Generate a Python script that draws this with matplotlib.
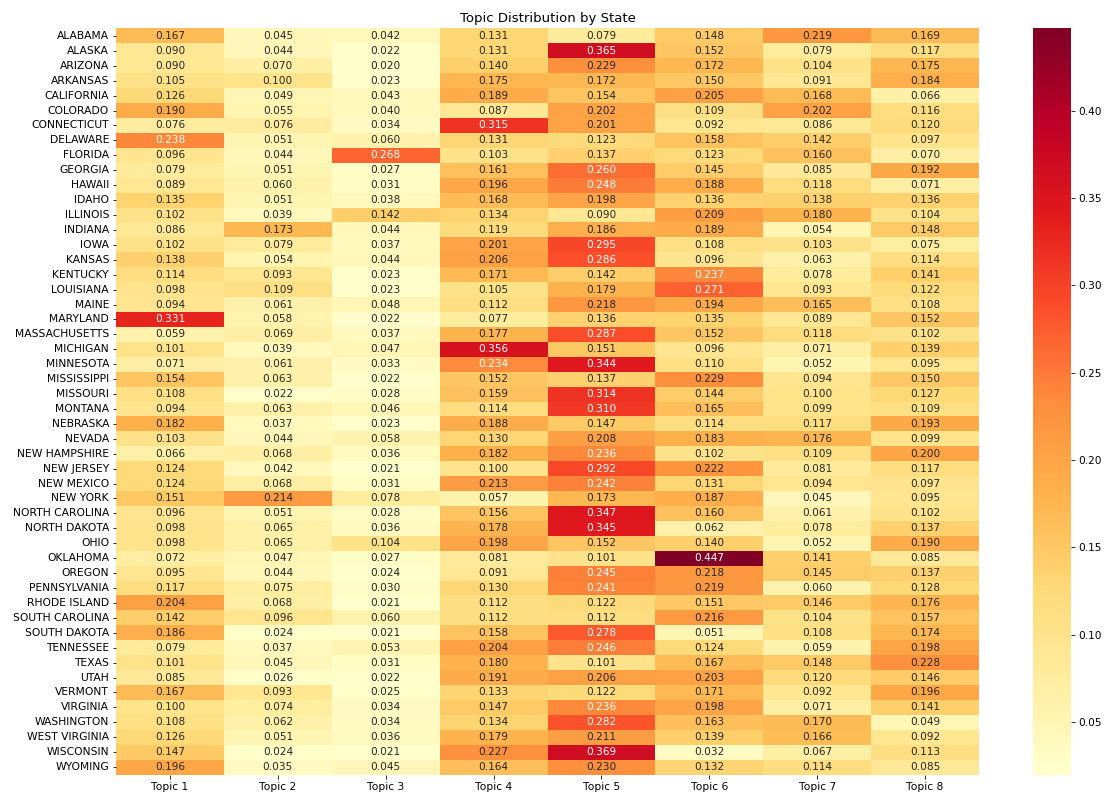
import matplotlib
matplotlib.use("Agg")
import matplotlib.pyplot as plt
import numpy as np
import pandas as pd
import seaborn as sns

states = ["ALABAMA", "ALASKA", "ARIZONA", "ARKANSAS", "CALIFORNIA", "COLORADO",
          "CONNECTICUT", "DELAWARE", "FLORIDA", "GEORGIA", "HAWAII", "IDAHO",
          "ILLINOIS", "INDIANA", "IOWA", "KANSAS", "KENTUCKY", "LOUISIANA",
          "MAINE", "MARYLAND", "MASSACHUSETTS", "MICHIGAN", "MINNESOTA",
          "MISSISSIPPI", "MISSOURI", "MONTANA", "NEBRASKA", "NEVADA",
          "NEW HAMPSHIRE", "NEW JERSEY", "NEW MEXICO", "NEW YORK",
          "NORTH CAROLINA", "NORTH DAKOTA", "OHIO", "OKLAHOMA", "OREGON",
          "PENNSYLVANIA", "RHODE ISLAND", "SOUTH CAROLINA", "SOUTH DAKOTA",
          "TENNESSEE", "TEXAS", "UTAH", "VERMONT", "VIRGINIA", "WASHINGTON",
          "WEST VIRGINIA", "WISCONSIN", "WYOMING"]

topic_labels = ["Topic 1", "Topic 2", "Topic 3", "Topic 4",
                "Topic 5", "Topic 6", "Topic 7", "Topic 8"]

topic1 = [0.167, 0.090, 0.090, 0.105, 0.126, 0.190, 0.076, 0.238, 0.096, 0.079,
          0.089, 0.135, 0.102, 0.086, 0.102, 0.138, 0.114, 0.098, 0.094, 0.331,
          0.059, 0.101, 0.071, 0.154, 0.108, 0.094, 0.182, 0.103, 0.066, 0.124,
          0.124, 0.151, 0.096, 0.098, 0.098, 0.072, 0.095, 0.117, 0.204, 0.142,
          0.186, 0.079, 0.101, 0.085, 0.167, 0.100, 0.108, 0.126, 0.147, 0.196]
topic2 = [0.045, 0.044, 0.070, 0.100, 0.049, 0.055, 0.076, 0.051, 0.044, 0.051,
          0.060, 0.051, 0.039, 0.173, 0.079, 0.054, 0.093, 0.109, 0.061, 0.058,
          0.069, 0.039, 0.061, 0.063, 0.022, 0.063, 0.037, 0.044, 0.068, 0.042,
          0.068, 0.214, 0.051, 0.065, 0.065, 0.047, 0.044, 0.075, 0.068, 0.096,
          0.024, 0.037, 0.045, 0.026, 0.093, 0.074, 0.062, 0.051, 0.024, 0.035]
topic3 = [0.042, 0.022, 0.020, 0.023, 0.043, 0.040, 0.034, 0.060, 0.268, 0.027,
          0.031, 0.038, 0.142, 0.044, 0.037, 0.044, 0.023, 0.023, 0.048, 0.022,
          0.037, 0.047, 0.033, 0.022, 0.028, 0.046, 0.023, 0.058, 0.036, 0.021,
          0.031, 0.078, 0.028, 0.036, 0.104, 0.027, 0.024, 0.030, 0.021, 0.060,
          0.021, 0.053, 0.031, 0.022, 0.025, 0.034, 0.034, 0.036, 0.021, 0.045]
topic4 = [0.131, 0.131, 0.140, 0.175, 0.189, 0.087, 0.315, 0.131, 0.103, 0.161,
          0.196, 0.168, 0.134, 0.119, 0.201, 0.206, 0.171, 0.105, 0.112, 0.077,
          0.177, 0.356, 0.234, 0.152, 0.159, 0.114, 0.188, 0.130, 0.182, 0.100,
          0.213, 0.057, 0.156, 0.178, 0.198, 0.081, 0.091, 0.130, 0.112, 0.112,
          0.158, 0.204, 0.180, 0.191, 0.133, 0.147, 0.134, 0.179, 0.227, 0.164]
topic5 = [0.079, 0.365, 0.229, 0.172, 0.154, 0.202, 0.201, 0.123, 0.137, 0.260,
          0.248, 0.198, 0.090, 0.186, 0.295, 0.286, 0.142, 0.179, 0.218, 0.136,
          0.287, 0.151, 0.344, 0.137, 0.314, 0.310, 0.147, 0.208, 0.236, 0.292,
          0.242, 0.173, 0.347, 0.345, 0.152, 0.101, 0.245, 0.241, 0.122, 0.112,
          0.278, 0.246, 0.101, 0.206, 0.122, 0.236, 0.282, 0.211, 0.369, 0.230]
topic6 = [0.148, 0.152, 0.172, 0.150, 0.205, 0.109, 0.092, 0.158, 0.123, 0.145,
          0.188, 0.136, 0.209, 0.189, 0.108, 0.096, 0.237, 0.271, 0.194, 0.135,
          0.152, 0.096, 0.110, 0.229, 0.144, 0.165, 0.114, 0.183, 0.102, 0.222,
          0.131, 0.187, 0.160, 0.062, 0.140, 0.447, 0.218, 0.219, 0.151, 0.216,
          0.051, 0.124, 0.167, 0.203, 0.171, 0.198, 0.163, 0.139, 0.032, 0.132]
topic7 = [0.219, 0.079, 0.104, 0.091, 0.168, 0.202, 0.086, 0.142, 0.160, 0.085,
          0.118, 0.138, 0.180, 0.054, 0.103, 0.063, 0.078, 0.093, 0.165, 0.089,
          0.118, 0.071, 0.052, 0.094, 0.100, 0.099, 0.117, 0.176, 0.109, 0.081,
          0.094, 0.045, 0.061, 0.078, 0.052, 0.141, 0.145, 0.060, 0.146, 0.104,
          0.108, 0.059, 0.148, 0.120, 0.092, 0.071, 0.170, 0.166, 0.067, 0.114]
topic8 = [0.169, 0.117, 0.175, 0.184, 0.066, 0.116, 0.120, 0.097, 0.070, 0.192,
          0.071, 0.136, 0.104, 0.148, 0.075, 0.114, 0.141, 0.122, 0.108, 0.152,
          0.102, 0.139, 0.095, 0.150, 0.127, 0.109, 0.193, 0.099, 0.200, 0.117,
          0.097, 0.095, 0.102, 0.137, 0.190, 0.085, 0.137, 0.128, 0.176, 0.157,
          0.174, 0.198, 0.228, 0.146, 0.196, 0.141, 0.049, 0.092, 0.113, 0.085]

df = pd.DataFrame(
    np.column_stack([topic1, topic2, topic3, topic4, topic5, topic6, topic7, topic8]),
    index=states, columns=topic_labels)

# 72 dpi, so point sizes are pixel sizes
fig = plt.figure(figsize=(1109 / 72, 796 / 72), dpi=72)
ax = fig.add_axes([0.1046, 0.0270, 0.7782, 0.9372])
cax = fig.add_axes([0.9315, 0.0270, 0.0343, 0.9372])

sns.heatmap(df, ax=ax, cbar_ax=cax, cmap="YlOrRd", annot=True, fmt=".3f",
            annot_kws={"fontsize": 10.5})
ax.set_title("Topic Distribution by State", fontsize=13.2)
ax.tick_params(axis="y", labelsize=10.8, length=3.5)
ax.tick_params(axis="x", labelsize=10.6, length=3.5)
plt.setp(ax.get_yticklabels(), rotation=0)
plt.setp(ax.get_xticklabels(), rotation=0)
cax.tick_params(labelsize=10.5)

fig.savefig("out.png", dpi=72)
